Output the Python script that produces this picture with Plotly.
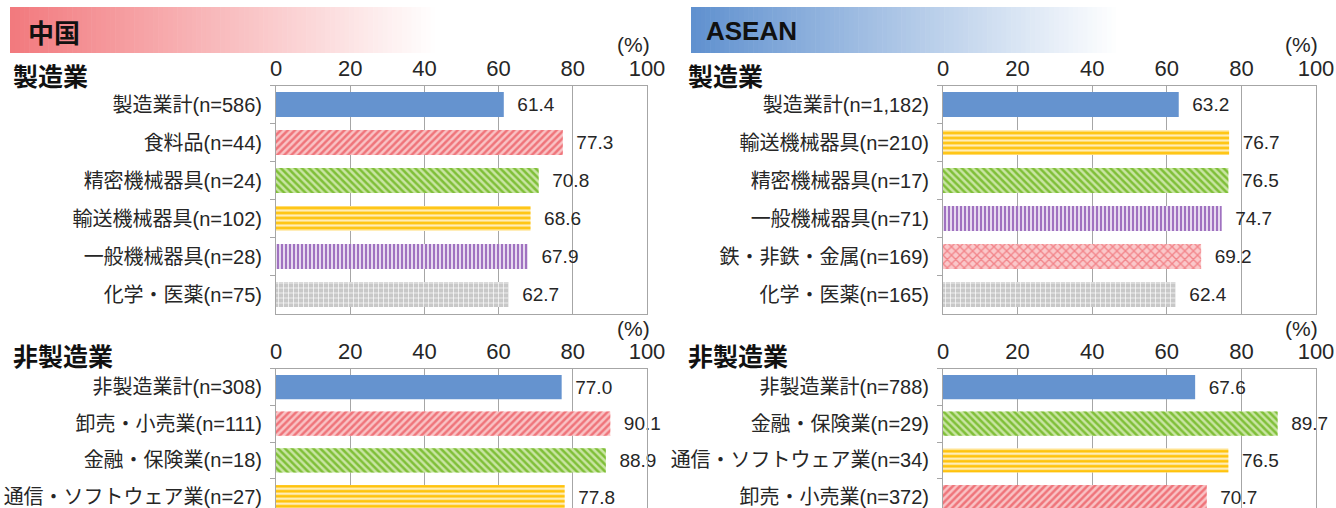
import plotly.graph_objects as go

W, H = 1336, 508

# ---------------- data ----------------
cn_mfg_labels = ["製造業計(n=586)", "食料品(n=44)", "精密機械器具(n=24)", "輸送機械器具(n=102)",
                 "一般機械器具(n=28)", "化学・医薬(n=75)"]
cn_mfg_values = [61.4, 77.3, 70.8, 68.6, 67.9, 62.7]
cn_mfg_kinds = ["total", "food", "precision", "transport", "general", "chem"]

cn_non_labels = ["非製造業計(n=308)", "卸売・小売業(n=111)", "金融・保険業(n=18)", "通信・ソフトウェア業(n=27)"]
cn_non_values = [77.0, 90.1, 88.9, 77.8]
cn_non_kinds = ["total", "wholesale", "finance", "telecom"]

as_mfg_labels = ["製造業計(n=1,182)", "輸送機械器具(n=210)", "精密機械器具(n=17)", "一般機械器具(n=71)",
                 "鉄・非鉄・金属(n=169)", "化学・医薬(n=165)"]
as_mfg_values = [63.2, 76.7, 76.5, 74.7, 69.2, 62.4]
as_mfg_kinds = ["total", "transport", "precision", "general", "metal", "chem"]

as_non_labels = ["非製造業計(n=788)", "金融・保険業(n=29)", "通信・ソフトウェア業(n=34)", "卸売・小売業(n=372)"]
as_non_values = [67.6, 89.7, 76.5, 70.7]
as_non_kinds = ["total", "finance", "telecom", "wholesale"]

x_ticks = [0, 20, 40, 60, 80, 100]

# ---------------- styles ----------------
STYLE = {
    "total":     dict(shape="",  fg="#6593CF", bg="#6593CF", size=8, sol=0.5),
    "food":      dict(shape="/", fg="#EF747A", bg="#F9C3C5", size=5, sol=0.5),
    "wholesale": dict(shape="/", fg="#EF747A", bg="#F9C3C5", size=5, sol=0.5),
    "metal":     dict(shape="x", fg="#F28489", bg="#FAC8CA", size=6, sol=0.4),
    "precision": dict(shape="\\", fg="#7FBF38", bg="#C9E5A3", size=5, sol=0.5),
    "finance":   dict(shape="\\", fg="#7FBF38", bg="#C9E5A3", size=5, sol=0.5),
    "transport": dict(shape="-", fg="#FFC000", bg="#FFEDB8", size=5, sol=0.5),
    "telecom":   dict(shape="-", fg="#FFC000", bg="#FFEDB8", size=5, sol=0.5),
    "general":   dict(shape="|", fg="#A072C0", bg="#E6D9EF", size=4, sol=0.5),
    "chem":      dict(shape="+", fg="#FFFFFF", bg="#C8C8C8", size=5, sol=0.25),
}

FONT = "Liberation Sans, Arial, Noto Sans CJK JP, sans-serif"
GRID = "#A6A6A6"
TXT = "#262626"

fig = go.Figure()

# pixel geometry
LX0, LX1 = 276, 647
RX0, RX1 = 943, 1316
TOP_T, TOP_B = 85.5, 313.5
BOT_T = 368.7


def px_x(p):
    return p / W


def px_y(p):
    return 1 - p / H


panels = [
    ("x", "y", cn_mfg_labels, cn_mfg_values, cn_mfg_kinds, (LX0, LX1), (TOP_T, TOP_B), [5.5, -0.5], True),
    ("x2", "y2", cn_non_labels, cn_non_values, cn_non_kinds, (LX0, LX1), (BOT_T, H), [3.30, -0.5], False),
    ("x3", "y3", as_mfg_labels, as_mfg_values, as_mfg_kinds, (RX0, RX1), (TOP_T, TOP_B), [5.5, -0.5], True),
    ("x4", "y4", as_non_labels, as_non_values, as_non_kinds, (RX0, RX1), (BOT_T, H), [3.30, -0.5], False),
]

for i, (xa, ya, labels, values, kinds, (x0, x1), (y0, y1), yr, full) in enumerate(panels):
    st = [STYLE[k] for k in kinds]
    # solid background fill of each bar
    fig.add_trace(go.Bar(
        x=values, y=labels, orientation="h", xaxis=xa, yaxis=ya,
        marker=dict(color=[s["bg"] for s in st], line=dict(width=0)),
        width=0.66,
        texttemplate="\u00a0\u00a0%{x:.1f}",
        textposition="outside",
        constraintext="none",
        cliponaxis=False,
        textfont=dict(family=FONT, size=19, color=TXT),
        showlegend=False,
        hoverinfo="skip",
    ))
    # pattern overlay
    fig.add_trace(go.Bar(
        x=values, y=labels, orientation="h", xaxis=xa, yaxis=ya,
        marker=dict(
            color="rgba(0,0,0,0)",
            line=dict(width=0),
            pattern=dict(
                shape=[s["shape"] for s in st],
                fgcolor=[s["fg"] for s in st],
                bgcolor="rgba(0,0,0,0)",
                size=[s["size"] for s in st],
                solidity=[s["sol"] for s in st],
                fgopacity=1,
                fillmode="replace",
            ),
        ),
        width=0.66,
        showlegend=False,
        hoverinfo="skip",
    ))
    suffix = "" if i == 0 else str(i + 1)
    fig.layout["xaxis" + suffix] = dict(
        domain=[px_x(x0), px_x(x1)], range=[0, 100], anchor=ya,
        side="top", tickvals=x_ticks, ticks="", showgrid=True,
        gridcolor=GRID, gridwidth=1, showline=True, linecolor=GRID, linewidth=1,
        mirror=full, zeroline=False, automargin=False,
        tickfont=dict(family=FONT, size=22, color=TXT),
    )
    fig.layout["yaxis" + suffix] = dict(
        domain=[px_y(y1), px_y(y0)], anchor=xa, type="category",
        categoryorder="array", categoryarray=labels, range=yr,
        showline=True, linecolor=GRID, linewidth=1, mirror=True, automargin=False,
        ticks="outside", tickson="boundaries", ticklen=5, tickcolor=GRID,
        tickfont=dict(family=FONT, size=20, color=TXT),
        ticklabelstandoff=9,
    )

# ---------------- banners (gradients) ----------------
shapes = []


def gradient(xs, xe, ys, ye, rgb, n=90):
    step = (xe - xs) / n
    for k in range(n):
        t = k / (n - 1)
        c = tuple(int(round(rgb[j] + (255 - rgb[j]) * t)) for j in range(3))
        shapes.append(dict(
            type="rect", xref="paper", yref="paper",
            x0=px_x(xs + k * step), x1=px_x(xs + (k + 1) * step + 0.6),
            y0=px_y(ye), y1=px_y(ys),
            fillcolor="rgb(%d,%d,%d)" % c, line=dict(width=0), layer="below",
        ))


gradient(10, 440, 7, 53, (242, 122, 126))
gradient(691, 1121, 7, 53, (96, 145, 207))
fig.update_layout(shapes=shapes)

# ---------------- text annotations ----------------
ann = []


def txt(x, y, s, size, family="Noto Sans CJK JP, Liberation Sans, sans-serif"):
    ann.append(dict(
        x=px_x(x), y=px_y(y), xref="paper", yref="paper", text="<b>%s</b>" % s,
        showarrow=False, xanchor="left", yanchor="middle",
        font=dict(family=family, size=size, color="#111"),
    ))


txt(26, 31, "中国", 26)
txt(704, 31, "ASEAN", 26, family="Liberation Sans, Arial, sans-serif")
txt(11, 75, "製造業", 25)
txt(11, 355, "非製造業", 25)
txt(686, 75, "製造業", 25)
txt(686, 355, "非製造業", 25)
for (xr, yy) in [(652, 45), (652, 328), (1320, 45), (1320, 328)]:
    ann.append(dict(
        x=px_x(xr), y=px_y(yy), xref="paper", yref="paper", text="(%)",
        showarrow=False, xanchor="right", yanchor="middle",
        font=dict(family=FONT, size=21, color=TXT),
    ))
fig.update_layout(annotations=ann)

fig.update_layout(
    width=W, height=H, margin=dict(l=0, r=0, t=0, b=0, autoexpand=False),
    paper_bgcolor="white", plot_bgcolor="white",
    barmode="overlay",
)

fig.write_html("out.html", config={"displayModeBar": False})
